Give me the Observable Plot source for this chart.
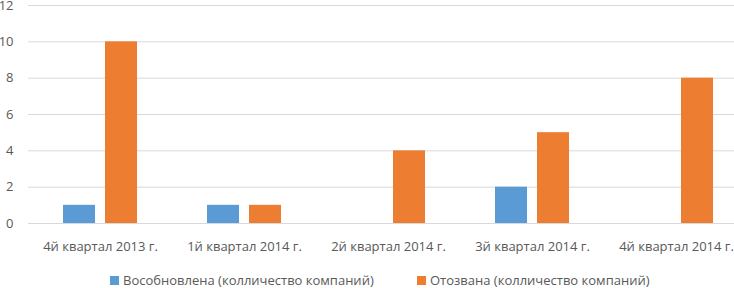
<!DOCTYPE html>
<html><head><meta charset="utf-8">
<script src="https://cdn.jsdelivr.net/npm/d3@7"></script>
<script src="https://cdn.jsdelivr.net/npm/@observablehq/plot@0.6"></script>
<style>
body{margin:0;background:#fff;font-family:"Open Sans",sans-serif;width:734px;height:288px;overflow:hidden;position:relative;}
#chart{width:734px;overflow:hidden;}
#legend{position:absolute;left:0;top:272px;width:734px;height:16px;font-size:13px;color:#595959;line-height:16px;}
.item{position:absolute;top:0;display:flex;align-items:center;white-space:nowrap;}
.sw{width:9px;height:9px;margin-right:4px;display:inline-block;}
</style></head><body><div id="chart"></div><div id="legend"></div>
<script>
const categories = ["4й квартал 2013 г.","1й квартал 2014 г.","2й квартал 2014 г.","3й квартал 2014 г.","4й квартал 2014 г."];
const seriesNames = ["Вособновлена (колличество компаний)","Отозвана (колличество компаний)"];
const restored = [1,1,0,2,0];
const revoked = [10,1,4,5,8];
const yTicks = [0,2,4,6,8,10,12];
const colors = ["#5B9BD5","#ED7D31"];
const data = categories.flatMap((c,i)=>[
  {cat:c, series:seriesNames[0], value:restored[i]},
  {cat:c, series:seriesNames[1], value:revoked[i]}
]);
const plot = Plot.plot({
  width:734, height:266, marginTop:5, marginBottom:43, marginLeft:28, marginRight:0,
  style:{fontFamily:"'Open Sans',sans-serif", fontSize:"13px", color:"#595959", background:"#fff", overflow:"hidden"},
  fx:{domain:categories, padding:0, range:[28,748], label:null, tickSize:0, tickPadding:18, axis:"bottom"},
  x:{domain:seriesNames, paddingInner:0.238, paddingOuter:0.833, axis:null},
  y:{domain:[0,12], ticks:yTicks, tickSize:0, tickPadding:15, label:null},
  color:{domain:seriesNames, range:colors},
  marks:[
    Plot.ruleY(yTicks,{stroke:"#d9d9d9", strokeWidth:1}),
    Plot.barY(data,{fx:"cat", x:"series", y:"value", fill:"series"})
  ]
});
document.getElementById("chart").appendChild(plot);
const lg = document.getElementById("legend");
const legendLeft = [110, 417];
seriesNames.forEach((s,i)=>{
  const it=document.createElement("div"); it.className="item"; it.style.left=legendLeft[i]+"px";
  const sw=document.createElement("span"); sw.className="sw"; sw.style.background=colors[i];
  const tx=document.createElement("span"); tx.textContent=s;
  it.appendChild(sw); it.appendChild(tx); lg.appendChild(it);
});
</script></body></html>
